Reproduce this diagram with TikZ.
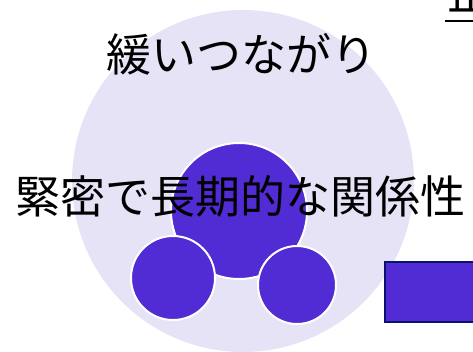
\documentclass[tikz,border=0pt]{standalone}
\usepackage{fontspec}
\newfontfamily\jp{Noto Sans CJK JP}
\definecolor{lav}{HTML}{E6E3F7}
\definecolor{netp}{HTML}{512BD4}
\definecolor{navy}{HTML}{0C1070}
\begin{document}
\begin{tikzpicture}[x=1pt,y=-1pt,
  bigc/.style={circle,fill=lav,inner sep=0pt},
  purc/.style={circle,fill=netp,draw=white,line width=2pt,inner sep=0pt},
  lbl/.style={font=\jp\fontsize{45}{45}\selectfont,text=black,inner sep=0pt}]
\useasboundingbox (0,0) rectangle (473,351);
\node[bigc,minimum size=342pt] (outer) at (243,181) {};
\node[purc,minimum size=136pt] (core) at (239,211) {};
\node[purc,minimum size=84pt] (left) at (173,278) {};
\node[purc,minimum size=78pt] (right) at (297,285) {};
\node[draw=navy,line width=2pt,fill=netp,minimum width=120pt,minimum height=60pt,anchor=north west,inner sep=0pt] (box) at (384,261) {};
\node[lbl] (loose) at (241,54) {緩いつながり};
\node[lbl] (tight) at (240,196) {緊密で長期的な関係性};
\node[lbl,anchor=base west] (title) at (447,10) {正};
\coordinate (ul1) at (445,21);
\coordinate (ul2) at (480,21);
\draw[line width=2pt] (ul1) -- (ul2);
\end{tikzpicture}
\end{document}
